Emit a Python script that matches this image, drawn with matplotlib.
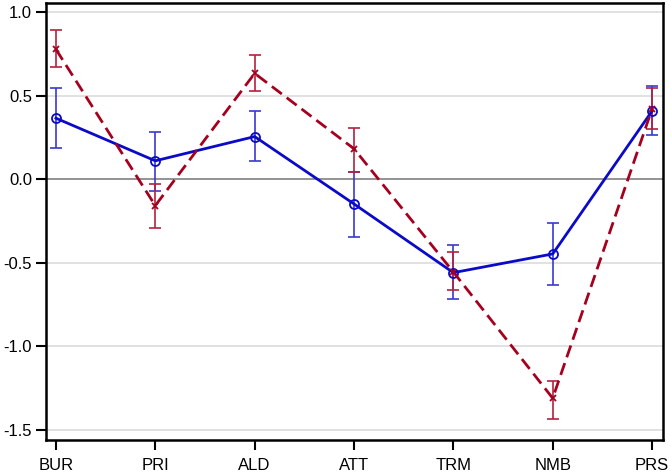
import matplotlib
matplotlib.use("Agg")
import matplotlib.pyplot as plt
import numpy as np

categories = ["BUR", "PRI", "ALD", "ATT", "TRM", "NMB", "PRS"]

blue_mean = [0.365, 0.11, 0.255, -0.148, -0.559, -0.447, 0.408]
blue_upper = [0.545, 0.28, 0.41, 0.045, -0.395, -0.26, 0.557]
blue_lower = [0.186, -0.07, 0.107, -0.344, -0.716, -0.633, 0.264]

red_mean = [0.777, -0.158, 0.633, 0.182, -0.555, -1.31, 0.42]
red_upper = [0.892, -0.03, 0.743, 0.304, -0.435, -1.205, 0.547]
red_lower = [0.669, -0.29, 0.527, 0.045, -0.663, -1.434, 0.30]

yticks = [-1.5, -1.0, -0.5, 0.0, 0.5, 1.0]
ytick_labels = ["-1.5", "-1.0", "-0.5", "0.0", "0.5", "1.0"]

plt.rcParams['font.family'] = ['Liberation Sans', 'DejaVu Sans']

fig = plt.figure(figsize=(6.71, 4.73), dpi=100)
ax = fig.add_axes([46/671, 1 - 440/473, (663-46)/671, (440-3)/473])

x = np.arange(len(categories))

for yv in yticks:
    if yv == 0.0:
        ax.axhline(yv, color="#808080", lw=1.2, zorder=1)
    else:
        ax.axhline(yv, color="#dcdcdc", lw=1.2, zorder=1)

bm = np.array(blue_mean)
rm = np.array(red_mean)
ax.errorbar(x, bm, yerr=[bm - np.array(blue_lower), np.array(blue_upper) - bm],
            fmt="none", ecolor="#3a3ad0", elinewidth=1.2, capsize=4.3, capthick=1.2, zorder=3)
ax.errorbar(x, rm, yerr=[rm - np.array(red_lower), np.array(red_upper) - rm],
            fmt="none", ecolor="#b2223e", elinewidth=1.2, capsize=4.3, capthick=1.2, zorder=3)

ax.plot(x, bm, color="#0a0ac8", lw=2.0, marker="o", markersize=6.5,
        markerfacecolor="none", markeredgecolor="#0a0ac8", markeredgewidth=1.3, zorder=4)
ax.plot(x, rm, color="#a5001e", lw=2.0, dashes=(4.5, 2.2), marker="x", markersize=5,
        markeredgewidth=1.3, zorder=4)

ax.set_xlim(-0.1, 6.11)
ax.set_ylim(-1.56, 1.054)
ax.set_xticks(x)
ax.set_xticklabels(categories, fontsize=12)
ax.set_yticks(yticks)
ax.set_yticklabels(ytick_labels, fontsize=12)
ax.tick_params(direction="out", length=7, width=1.5, color="black", pad=3)
ax.tick_params(axis="x", pad=6)
for sp in ax.spines.values():
    sp.set_linewidth(1.8)
    sp.set_color("black")

fig.savefig("out.png", dpi=100)
